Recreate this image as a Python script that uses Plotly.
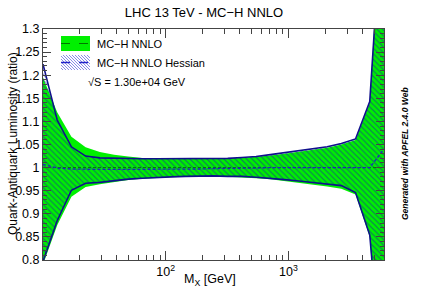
import plotly.graph_objects as go

# ---------------- data ----------------
mass = [10.0, 13.05, 17.04, 22.25, 29.04, 37.91, 49.48, 64.60, 84.33, 110.1,
        143.7, 187.6, 244.9, 319.7, 417.3, 544.8, 711.1, 928.3, 1211.8, 1581.9,
        2065.0, 2695.0, 3518.0, 4593.0, 6000.0]

green_up = [1.195, 1.120, 1.067, 1.044, 1.034, 1.028, 1.024, 1.021, 1.020, 1.019,
            1.019, 1.019, 1.019, 1.020, 1.021, 1.023, 1.026, 1.030, 1.034, 1.038,
            1.043, 1.050, 1.060, 1.140, 1.680]
green_lo = [0.790, 0.875, 0.937, 0.958, 0.964, 0.969, 0.973, 0.976, 0.978, 0.979,
            0.980, 0.981, 0.981, 0.980, 0.979, 0.977, 0.975, 0.971, 0.967, 0.963,
            0.959, 0.954, 0.942, 0.850, 0.420]
green_c = [1.0, 1.0, 1.0, 1.0, 1.0, 1.0, 1.0, 1.0, 1.0, 1.0, 1.0, 1.0, 1.0,
           1.0, 1.0, 1.0, 1.0, 1.0, 1.0, 1.0, 1.0, 1.0, 1.0, 1.0, 1.0]

hess_up = [1.224, 1.103, 1.045, 1.025, 1.021, 1.020, 1.019, 1.019, 1.019, 1.019,
           1.019, 1.019, 1.019, 1.020, 1.022, 1.024, 1.028, 1.032, 1.036, 1.040,
           1.045, 1.052, 1.062, 1.143, 1.620]
hess_lo = [0.797, 0.885, 0.951, 0.966, 0.968, 0.972, 0.975, 0.977, 0.979, 0.980,
           0.981, 0.982, 0.982, 0.981, 0.981, 0.979, 0.977, 0.974, 0.971, 0.968,
           0.965, 0.961, 0.946, 0.854, 0.500]
hess_c = [1.007, 0.999, 0.997, 0.996, 0.996, 0.996, 0.996, 0.996, 0.996, 0.996,
          0.997, 0.997, 0.998, 0.998, 0.999, 0.999, 1.000, 1.000, 1.000, 1.000,
          1.000, 1.000, 1.000, 1.000, 1.040]

y_ticks = [0.8, 0.85, 0.9, 0.95, 1.0, 1.05, 1.1, 1.15, 1.2, 1.25, 1.3]
y_ticktext = ["0.8", "0.85", "0.9", "0.95", "1", "1.05", "1.1", "1.15", "1.2", "1.25", "1.3"]
x_ticks = [100, 1000]
x_ticktext = ["10<sup>2</sup>", "10<sup>3</sup>"]
x_minor = [20, 30, 40, 50, 60, 70, 80, 90, 200, 300, 400, 500, 600, 700, 800, 900,
           2000, 3000, 4000, 5000]
y_minor = [round(0.8 + 0.01 * k, 2) for k in range(51)]

FONT = "Liberation Sans, Arial, Helvetica, sans-serif"
W, H = 427, 290
L, R, T, B = 43, 43, 29, 30
PW, PH = W - L - R, H - T - B

def px(x):
    return (x - L) / PW

def py(y):
    return (H - B - y) / PH

fig = go.Figure()

# green MC-H NNLO band
fig.add_trace(go.Scatter(
    x=mass + mass[::-1], y=green_up + green_lo[::-1],
    fill="toself", fillcolor="#00f000", line=dict(width=0),
    mode="lines", showlegend=False, hoverinfo="skip"))

# hatched Hessian band
fig.add_trace(go.Scatter(
    x=mass + mass[::-1], y=hess_up + hess_lo[::-1],
    fill="toself", fillcolor="rgba(0,0,0,0)",
    fillpattern=dict(shape="\\", fgcolor="#1a1aa8", bgcolor="rgba(0,0,0,0)",
                     size=4, solidity=0.3),
    line=dict(width=0), mode="lines", showlegend=False, hoverinfo="skip"))

# Hessian edges
for arr in (hess_up, hess_lo):
    fig.add_trace(go.Scatter(x=mass, y=arr, mode="lines",
                             line=dict(color="#10108c", width=1.6),
                             showlegend=False, hoverinfo="skip"))

# central lines
fig.add_trace(go.Scatter(x=mass, y=green_c, mode="lines",
                         line=dict(color="#007700", width=1, dash="3px,2px"),
                         showlegend=False))
fig.add_trace(go.Scatter(x=mass, y=hess_c, mode="lines",
                         line=dict(color="#2020c8", width=1.3, dash="3px,2px"),
                         showlegend=False))

axis_common = dict(showgrid=False, zeroline=False, showline=True,
                   linecolor="#444", linewidth=1, mirror="ticks",
                   ticks="inside", tickcolor="#444",
                   tickfont=dict(family=FONT, size=12.5, color="black"))

fig.update_xaxes(type="log", range=[1, 3.7782],
                 tickmode="array", tickvals=x_ticks, ticktext=x_ticktext,
                 ticklen=9,
                 minor=dict(ticks="inside", tickvals=x_minor, ticklen=5,
                            tickcolor="#444"),
                 **axis_common)
fig.update_yaxes(range=[0.8, 1.3], tickmode="array", tickvals=y_ticks,
                 ticktext=y_ticktext, ticklen=8,
                 minor=dict(ticks="inside", tickvals=y_minor, ticklen=4,
                            tickcolor="#444"),
                 **axis_common)

shapes = []
# legend entry 1
shapes.append(dict(type="rect", xref="paper", yref="paper",
                   x0=px(61), x1=px(90), y0=py(51), y1=py(36),
                   fillcolor="#00f000", line=dict(width=0)))
shapes.append(dict(type="line", xref="paper", yref="paper",
                   x0=px(61), x1=px(90), y0=py(43.5), y1=py(43.5),
                   line=dict(color="#007700", width=1, dash="dash")))
# legend entry 2 (hatched box)
bx0, bx1, by0, by1 = 61, 90, 55, 70
segs = []
c = by0 - bx1
while c < by1 - bx0:
    xs = max(bx0, by0 - c)
    xe = min(bx1, by1 - c)
    if xe > xs:
        segs.append("M%.4f,%.4f L%.4f,%.4f" % (px(xs), py(xs + c), px(xe), py(xe + c)))
    c += 3
shapes.append(dict(type="path", xref="paper", yref="paper", path=" ".join(segs),
                   line=dict(color="#8a8ae8", width=1)))
shapes.append(dict(type="line", xref="paper", yref="paper",
                   x0=px(61), x1=px(90), y0=py(62.5), y1=py(62.5),
                   line=dict(color="#2020c8", width=1.3, dash="dash")))
fig.update_layout(shapes=shapes)

ann = []
ann.append(dict(text="MC\u2212H NNLO", x=px(95), y=py(44), xref="paper", yref="paper",
                xanchor="left", yanchor="middle", showarrow=False,
                font=dict(family=FONT, size=11, color="black")))
ann.append(dict(text="MC\u2212H NNLO Hessian", x=px(95), y=py(63), xref="paper", yref="paper",
                xanchor="left", yanchor="middle", showarrow=False,
                font=dict(family=FONT, size=11, color="black")))
ann.append(dict(text="\u221aS = 1.30e+04 GeV", x=px(86), y=py(82), xref="paper", yref="paper",
                xanchor="left", yanchor="middle", showarrow=False,
                font=dict(family=FONT, size=11, color="black")))
# axis titles
ann.append(dict(text="Quark-Antiquark Luminosity (ratio)", x=px(13), y=py(144),
                xref="paper", yref="paper", textangle=-90, showarrow=False,
                xanchor="center", yanchor="middle",
                font=dict(family=FONT, size=12, color="black")))
ann.append(dict(text="M<sub>X</sub> [GeV]", x=px(210), y=py(280),
                xref="paper", yref="paper", showarrow=False,
                xanchor="center", yanchor="middle",
                font=dict(family=FONT, size=12.5, color="black")))
ann.append(dict(text="<b><i>Generated with APFEL 2.4.0 Web</i></b>", x=px(405), y=py(154),
                xref="paper", yref="paper", textangle=-90, showarrow=False,
                xanchor="center", yanchor="middle",
                font=dict(family=FONT, size=8.5, color="black")))
fig.update_layout(annotations=ann)

fig.update_layout(
    width=W, height=H,
    margin=dict(l=L, r=R, t=T, b=B, pad=0),
    paper_bgcolor="white", plot_bgcolor="white",
    showlegend=False,
    title=dict(text="LHC 13 TeV - MC\u2212H NNLO", x=204 / W, xref="container",
               xanchor="center", y=1 - 12 / H, yref="container", yanchor="middle",
               font=dict(family=FONT, size=13, color="black")),
)

fig.write_html("out.html", config={"displayModeBar": False},
               post_script="document.body.style.margin='0';document.body.style.overflow='hidden';")
